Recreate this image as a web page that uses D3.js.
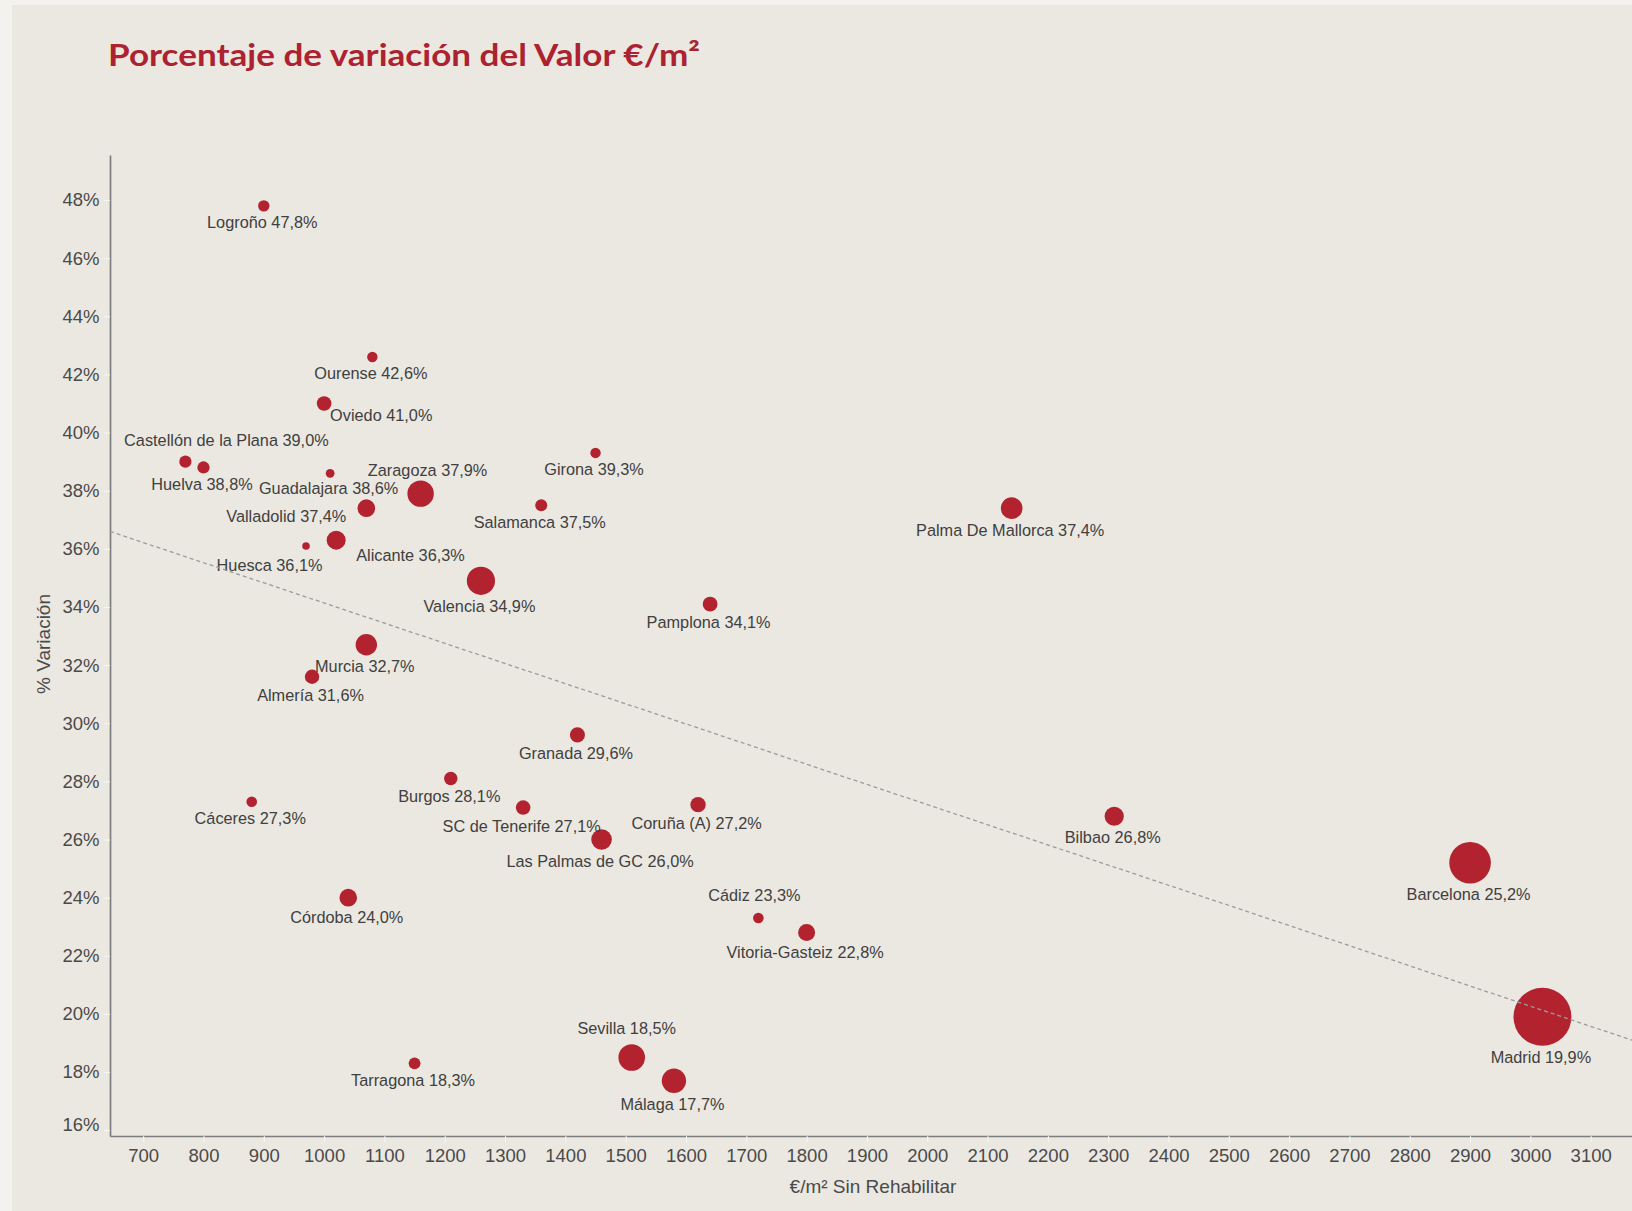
<!DOCTYPE html>
<html>
<head>
  <meta charset="utf-8">
  <title>Porcentaje de variación del Valor €/m²</title>
  <script src="https://d3js.org/d3.v7.min.js"></script>
  <style>
    body {
      margin: 0;
      background: #f3f2ef;
    }
    #chart text {
      font-family: "Liberation Sans", Arial, sans-serif;
    }
  </style>
</head>
<body>
  <div id="chart"></div>
  <script>
    // datos
    const ciudades = ["Logroño", "Ourense", "Oviedo", "Castellón de la Plana", "Huelva", "Guadalajara",
      "Zaragoza", "Girona", "Valladolid", "Salamanca", "Palma De Mallorca", "Huesca", "Alicante",
      "Valencia", "Pamplona", "Murcia", "Almería", "Granada", "Burgos", "Cáceres", "SC de Tenerife",
      "Coruña (A)", "Las Palmas de GC", "Bilbao", "Barcelona", "Córdoba", "Cádiz", "Vitoria-Gasteiz",
      "Madrid", "Sevilla", "Tarragona", "Málaga"];
    // €/m² sin rehabilitar
    const valorM2 = [900, 1080, 1000, 770, 800, 1010,
      1160, 1450, 1070, 1360, 2140, 970, 1020,
      1260, 1640, 1070, 980, 1420, 1210, 880, 1330,
      1620, 1460, 2310, 2900, 1040, 1720, 1800,
      3020, 1510, 1150, 1580];
    // % variación
    const variacion = [47.8, 42.6, 41.0, 39.0, 38.8, 38.6,
      37.9, 39.3, 37.4, 37.5, 37.4, 36.1, 36.3,
      34.9, 34.1, 32.7, 31.6, 29.6, 28.1, 27.3, 27.1,
      27.2, 26.0, 26.8, 25.2, 24.0, 23.3, 22.8,
      19.9, 18.5, 18.3, 17.7];
    // tamaño de burbuja (miles de habitantes, aprox.)
    const poblacion = [125, 104, 204, 143, 143, 74,
      668, 104, 297, 138, 447, 55, 346,
      762, 210, 439, 199, 216, 172, 108, 204,
      227, 407, 353, 1658, 297, 108, 277,
      3223, 678, 133, 570];

    const xTicks = [700, 800, 900, 1000, 1100, 1200, 1300, 1400, 1500, 1600, 1700, 1800, 1900,
      2000, 2100, 2200, 2300, 2400, 2500, 2600, 2700, 2800, 2900, 3000, 3100];
    const yTicks = [16, 18, 20, 22, 24, 26, 28, 30, 32, 34, 36, 38, 40, 42, 44, 46, 48];

    // colocacion de etiquetas que no van debajo del punto
    const labelPos = {
      "Oviedo": { anchor: "start", dx: 6, dy: 12 },
      "Castellón de la Plana": { dx: 41, dy: -21 },
      "Zaragoza": { dx: 7, dy: -23 },
      "Valladolid": { anchor: "end", dx: -20, dy: 8 },
      "Alicante": { anchor: "start", dx: 20, dy: 15.5 },
      "Huesca": { dx: -36.5, dy: 19.7 },
      "Cádiz": { dx: -4, dy: -23 },
      "Sevilla": { dx: -5, dy: -29 }
    };

    const width = 1632, height = 1211;
    const red = "#b2232f";
    const textColor = "#404040";

    const data = ciudades.map((c, i) => ({
      ciudad: c, valor: valorM2[i], pct: variacion[i], pob: poblacion[i]
    }));

    const svg = d3.select("#chart").append("svg")
      .attr("width", width)
      .attr("height", height)
      .style("display", "block");

    svg.append("rect")
      .attr("x", 12).attr("y", 5)
      .attr("width", width - 12).attr("height", height - 5)
      .attr("fill", "#ebe8e1");

    svg.append("text")
      .attr("x", 108)
      .attr("y", 66)
      .attr("fill", "#ad2230")
      .style("font-family", "Lato, 'Open Sans', sans-serif")
      .style("font-weight", 700)
      .style("font-size", "31px")
      .attr("textLength", 592)
      .attr("lengthAdjust", "spacingAndGlyphs")
      .text("Porcentaje de variación del Valor €/m²");

    const x = d3.scaleLinear().domain([645, 3168.5]).range([110, 1632]);
    const y = d3.scaleLinear().domain([15.8, 49.55]).range([1136, 155]);
    const r = d3.scaleSqrt().domain([0, d3.max(poblacion)]).range([0, 29]);

    // ejes
    const yAxis = svg.append("g")
      .attr("transform", "translate(110,0)")
      .call(d3.axisLeft(y).tickValues(yTicks).tickSize(6).tickSizeOuter(0).tickPadding(4.5)
        .tickFormat(d => d + "%"));
    const xAxis = svg.append("g")
      .attr("transform", "translate(0,1136)")
      .call(d3.axisBottom(x).tickValues(xTicks).tickSize(6).tickSizeOuter(0).tickPadding(7)
        .tickFormat(d3.format("d")));

    [xAxis, yAxis].forEach(g => {
      g.select(".domain").attr("stroke", "#7d7d7d").attr("stroke-width", 1.7);
      g.selectAll(".tick line").attr("stroke", "#f8f7f4").attr("stroke-width", 1);
      g.selectAll(".tick text")
        .attr("fill", "#4a4a4a")
        .style("font-size", "18.5px");
    });
    yAxis.selectAll(".tick text").filter(d => d === 16).attr("y", -6);

    svg.append("text")
      .attr("transform", "translate(50,644) rotate(-90)")
      .attr("text-anchor", "middle")
      .attr("fill", "#4a4a4a")
      .style("font-size", "19px")
      .text("% Variación");

    svg.append("text")
      .attr("x", 873)
      .attr("y", 1193)
      .attr("text-anchor", "middle")
      .attr("fill", "#4a4a4a")
      .style("font-size", "19px")
      .text("€/m² Sin Rehabilitar");

    // burbujas
    svg.append("g")
      .selectAll("circle")
      .data(data.slice().sort((a, b) => b.pob - a.pob))
      .join("circle")
      .attr("cx", d => x(d.valor))
      .attr("cy", d => y(d.pct))
      .attr("r", d => r(d.pob))
      .attr("fill", red);

    // etiquetas
    const fmt = d3.format(".1f");
    svg.append("g")
      .selectAll("text")
      .data(data)
      .join("text")
      .attr("text-anchor", d => (labelPos[d.ciudad] && labelPos[d.ciudad].anchor) || "middle")
      .attr("x", d => x(d.valor) + (labelPos[d.ciudad] ? labelPos[d.ciudad].dx : -1.5))
      .attr("y", d => y(d.pct) + (labelPos[d.ciudad] ? labelPos[d.ciudad].dy : r(d.pob) + 11) + 5.8)
      .attr("fill", textColor)
      .style("font-size", "16.3px")
      .text(d => `${d.ciudad} ${fmt(d.pct).replace(".", ",")}%`);

    // linea de tendencia (minimos cuadrados)
    const mx = d3.mean(valorM2), my = d3.mean(variacion);
    const sxy = d3.sum(data, d => (d.valor - mx) * (d.pct - my));
    const sxx = d3.sum(data, d => (d.valor - mx) ** 2);
    const slope = sxy / sxx;
    const intercept = my - slope * mx;
    const ends = x.domain();

    svg.append("line")
      .attr("x1", x(ends[0]))
      .attr("y1", y(intercept + slope * ends[0]))
      .attr("x2", x(ends[1]))
      .attr("y2", y(intercept + slope * ends[1]))
      .attr("stroke", "#9b9b9b")
      .attr("stroke-width", 1.3)
      .attr("stroke-dasharray", "4,3");
  </script>
</body>
</html>
